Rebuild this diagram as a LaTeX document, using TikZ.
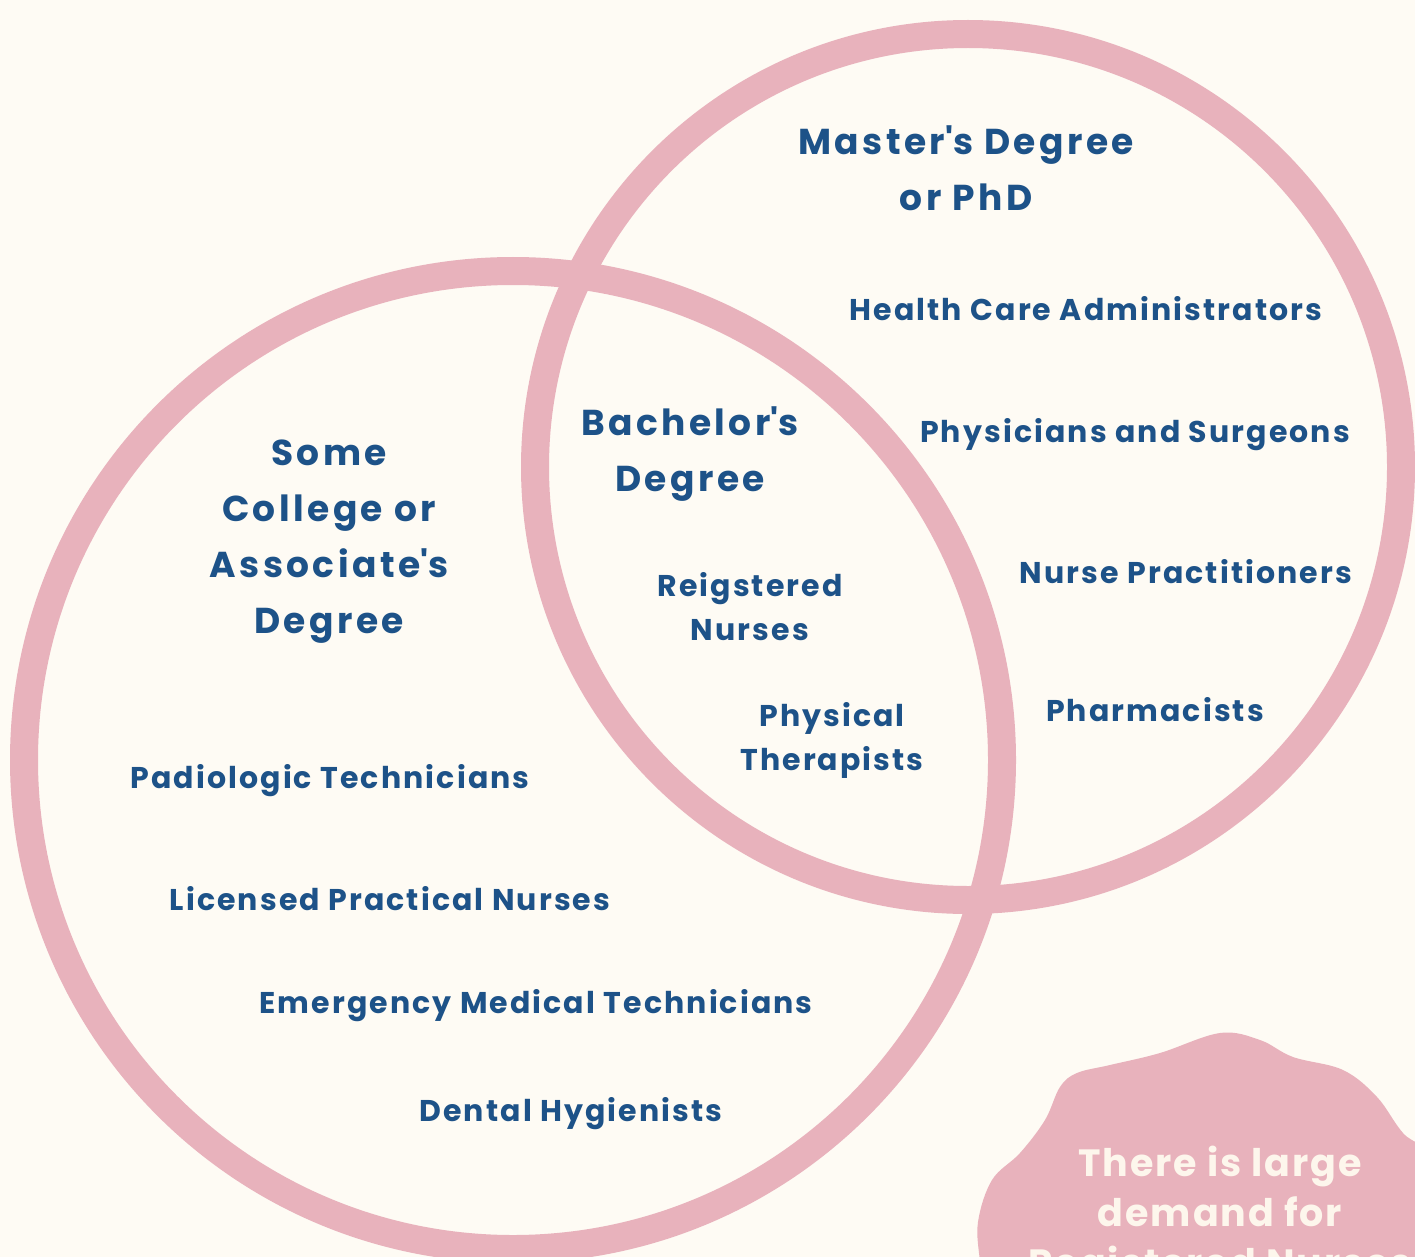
\documentclass[tikz,border=0pt]{standalone}
\usepackage{fontspec}
\setmainfont{Poppins}[BoldFont={* Bold}]
\definecolor{bgc}{HTML}{FEFBF4}
\definecolor{ring}{HTML}{E8B2BC}
\definecolor{navy}{HTML}{1D5288}
\definecolor{cream}{HTML}{FDF6EC}
\newcommand{\ap}{\textquotesingle}
\tikzset{
  ringline/.style={draw=ring, line width=28pt},
  head/.style={text=navy, font=\bfseries\fontsize{36}{56}\selectfont\addfontfeature{LetterSpace=9.5}, align=center, inner sep=0pt},
  item/.style={text=navy, font=\bfseries\fontsize{30}{44}\selectfont\addfontfeature{LetterSpace=7}, align=center, inner sep=0pt},
  blobtext/.style={text=cream, font=\bfseries\fontsize{38}{50}\selectfont\addfontfeature{LetterSpace=5}, align=center, inner sep=0pt}
}
\begin{document}
\begin{tikzpicture}[x=1pt,y=-1pt]
\useasboundingbox (0,0) rectangle (1415,1257);
\fill[bgc] (0,0) rectangle (1415,1257);
\clip (0,0) rectangle (1415,1257);
\draw[ringline] (968,467) circle[radius=433pt];
\draw[ringline] (513,760) circle[radius=489pt];
\fill[ring] plot[smooth cycle, tension=0.6] coordinates {
 (985,1300) (980,1262) (978,1222) (992,1180) (1020,1153) (1045,1120) (1060,1087) (1077,1073)
 (1110,1065) (1160,1053) (1220,1033) (1260,1040) (1293,1057) (1343,1070) (1377,1097)
 (1403,1133) (1440,1170) (1460,1300)};
\node[head] (master) at (966,168) {Master\ap s Degree\\or PhD};
\node[item] (hca) at (1086,309) {Health Care Administrators};
\node[item] (phys) at (1135,435) {Physicians and Surgeons};
\node[item] (np) at (1186,572) {Nurse Practitioners};
\node[item] (pharm) at (1155,710) {Pharmacists};
\node[head] (bach) at (690,454) {Bachelor\ap s\\Degree};
\node[item] (rn) at (750,607) {Reigstered\\Nurses};
\node[item] (pt) at (832,740) {Physical\\Therapists};
\node[head] (some) at (329,542) {Some\\College or\\Associate\ap s\\Degree};
\node[item] (rad) at (330,781) {Padiologic Technicians};
\node[item] (lpn) at (390,899) {Licensed Practical Nurses};
\node[item] (emt) at (536,1006) {Emergency Medical Technicians};
\node[item] (dh) at (571,1114) {Dental Hygienists};
\node[blobtext, anchor=north] (demand) at (1220,1146) {There is large\\demand for\\Registered Nurses};
\end{tikzpicture}
\end{document}
